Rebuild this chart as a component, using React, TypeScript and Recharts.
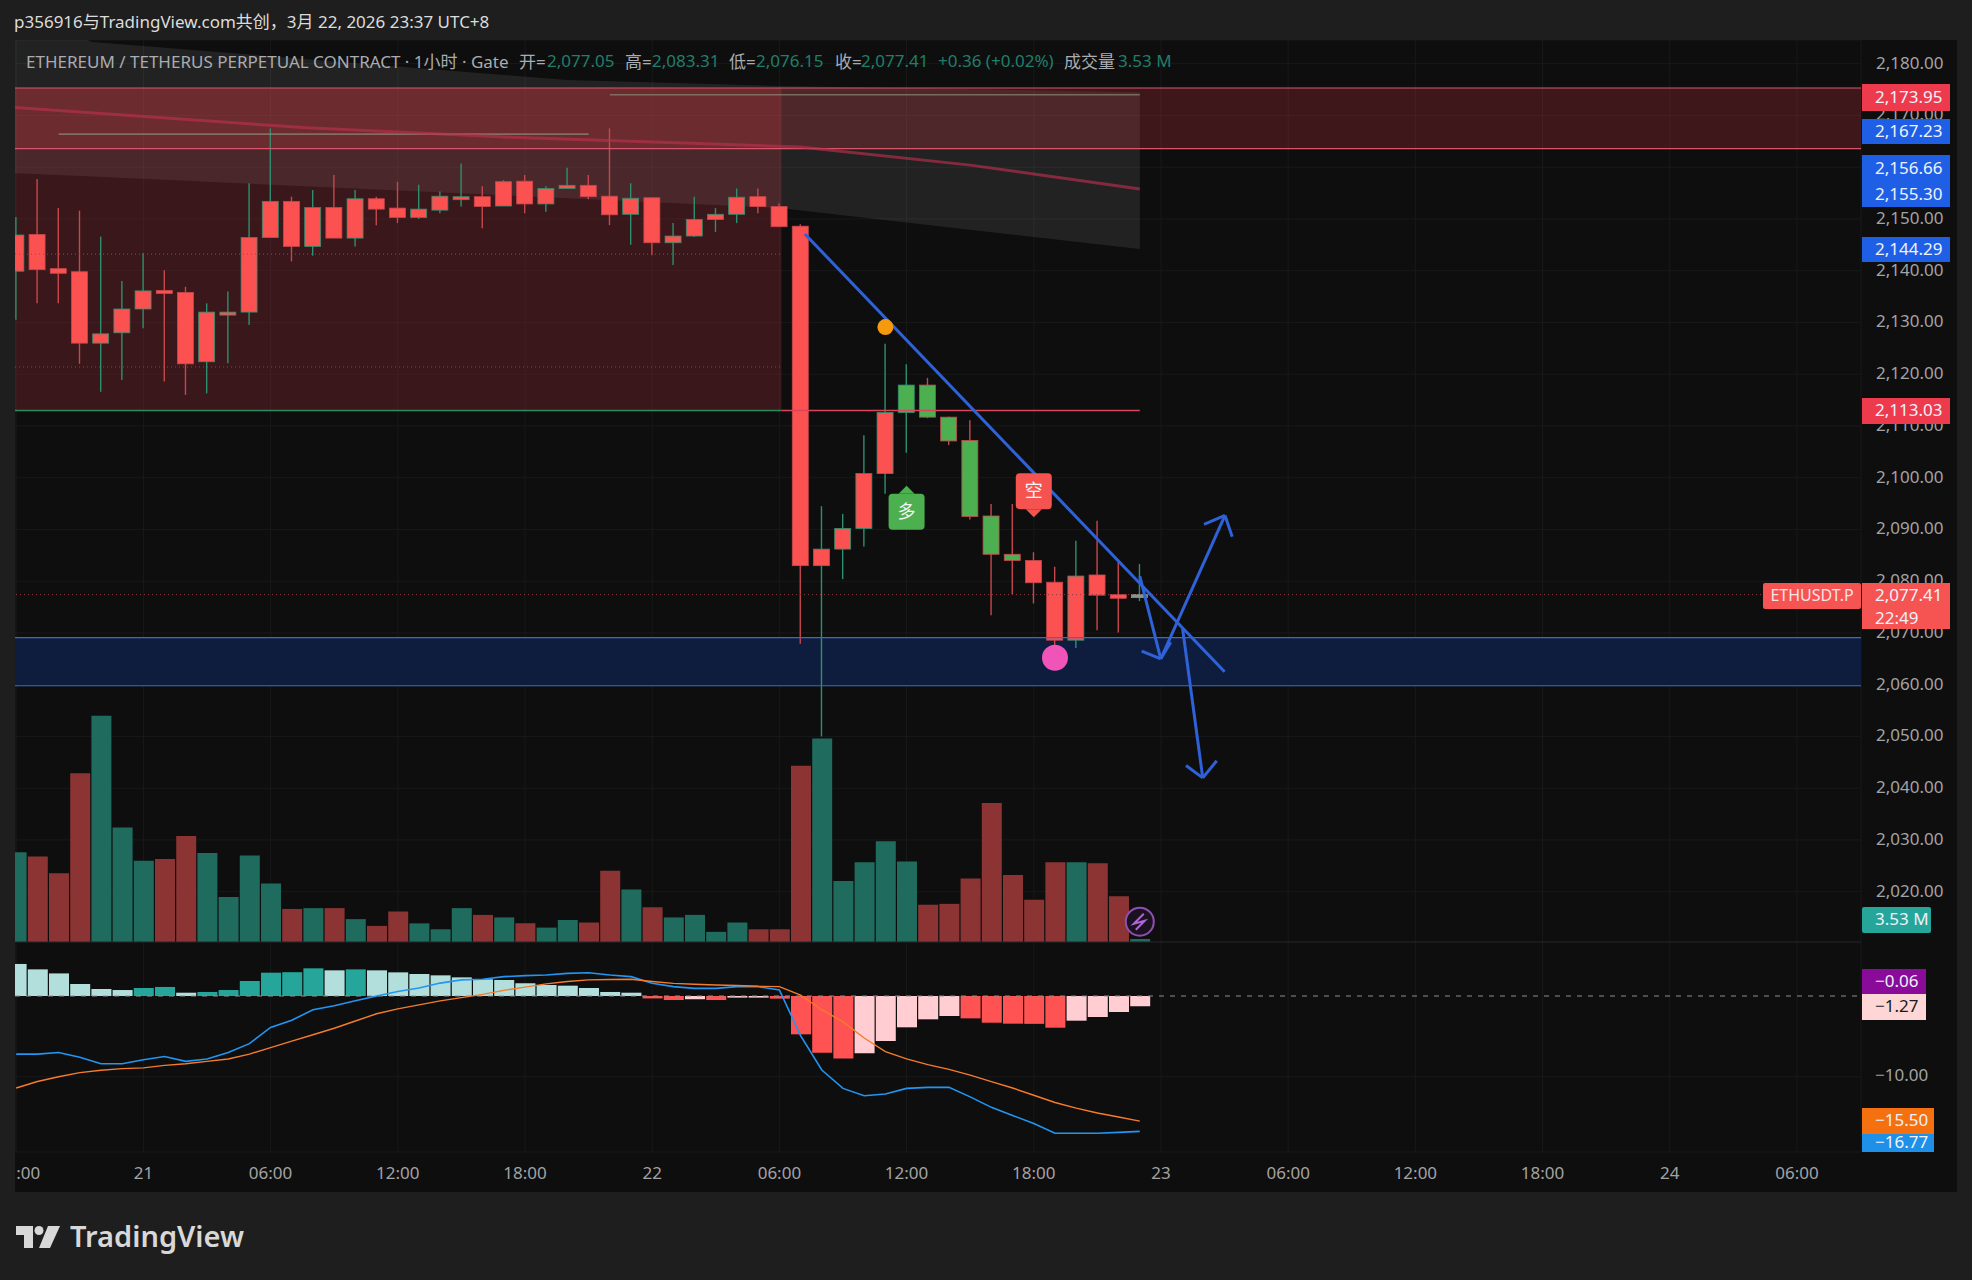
import React from 'react';
import {
  ComposedChart,
  Bar,
  Line,
  Area,
  Cell,
  XAxis,
  YAxis,
  CartesianGrid,
  ReferenceArea,
  ReferenceLine,
  ReferenceDot,
} from 'recharts';

const bodyTop = [
  2146.9, 2147.0, 2140.4, 2139.8, 2127.8, 2132.6, 2136.1, 2136.2, 2135.8, 2132.0, 2132.0, 2146.4, 2153.4, 2153.4,
  2152.2, 2152.2, 2153.9, 2153.9, 2152.1, 2151.9, 2154.4, 2154.3, 2154.3, 2157.2, 2157.3, 2155.9, 2156.5, 2156.5,
  2154.4, 2154.0, 2154.1, 2146.7, 2149.9, 2150.9, 2154.2, 2154.3, 2152.4, 2148.6, 2086.2, 2090.2, 2100.8, 2112.6,
  2117.9, 2117.9, 2111.7, 2107.2, 2092.6, 2085.2, 2084.0, 2079.8, 2081.0, 2081.2, 2077.4, 2077.41,
];
const bodyBottom = [
  2139.9, 2140.2, 2139.5, 2126.0, 2126.0, 2128.0, 2132.6, 2135.6, 2122.0, 2122.4, 2131.7, 2132.0, 2146.4, 2144.7,
  2144.7, 2146.3, 2146.3, 2151.9, 2150.3, 2150.3, 2151.7, 2154.0, 2152.4, 2152.5, 2152.9, 2152.9, 2155.9, 2154.3,
  2150.8, 2150.9, 2145.4, 2145.4, 2146.7, 2149.9, 2150.9, 2152.4, 2148.5, 2083.0, 2083.0, 2086.2, 2090.2, 2100.8,
  2112.6, 2111.7, 2107.1, 2092.5, 2085.2, 2084.0, 2079.7, 2068.6, 2068.6, 2077.3, 2076.7, 2077.05,
];
const wickHigh = [
  2150.4, 2157.7, 2152.1, 2151.6, 2146.6, 2138.0, 2143.4, 2140.1, 2136.9, 2133.7, 2136.0, 2156.9, 2167.5, 2154.3,
  2155.6, 2158.5, 2155.6, 2154.3, 2157.2, 2156.6, 2155.3, 2160.7, 2156.3, 2157.5, 2158.5, 2156.3, 2159.9, 2158.5,
  2167.5, 2156.9, 2154.1, 2149.2, 2154.3, 2152.1, 2155.9, 2155.9, 2153.0, 2149.0, 2094.5, 2093.0, 2108.2, 2125.9,
  2121.9, 2119.3, 2111.8, 2111.1, 2094.9, 2094.9, 2085.6, 2082.8, 2087.8, 2091.7, 2083.8, 2083.31,
];
const wickLow = [
  2130.5, 2133.7, 2133.7, 2122.0, 2116.6, 2118.9, 2128.9, 2118.6, 2116.0, 2116.3, 2122.1, 2129.5, 2146.4, 2141.8,
  2142.9, 2146.3, 2144.7, 2148.8, 2149.2, 2150.0, 2151.1, 2152.4, 2148.2, 2152.5, 2151.1, 2151.4, 2155.9, 2153.8,
  2148.8, 2145.0, 2143.0, 2141.1, 2146.5, 2147.5, 2149.2, 2151.1, 2148.5, 2067.9, 2050.0, 2080.4, 2086.7, 2096.9,
  2104.8, 2111.5, 2106.3, 2091.9, 2073.4, 2077.5, 2075.7, 2067.5, 2067.1, 2070.5, 2070.1, 2076.15,
];
// 1 = teal volume bar and green wick
const upFlags = [
  1, 0, 0, 0, 1, 1, 1, 0, 0, 1, 1, 1, 1, 0, 1, 0, 1, 0, 0, 1, 1, 1, 0, 1, 0, 1, 1, 0, 0, 1, 0, 1, 1, 1, 1, 0, 0,
  0, 1, 1, 1, 1, 1, 0, 0, 0, 0, 0, 0, 0, 1, 0, 0, 1,
];
const volumes = [
  106, 101, 81, 199, 267, 135, 96, 98, 125, 105, 53, 102, 69, 39, 40, 40, 27, 19, 36, 22, 15, 40, 32, 29, 22, 17,
  26, 23, 84, 62, 41, 29, 32, 12, 23, 15, 15, 208, 240, 72, 94, 119, 95, 44, 45, 75, 164, 79, 50, 94, 94, 93, 54,
  3.53,
];
const macdHist = [
  3.97, 3.3, 2.8, 1.49, 0.87, 0.74, 0.99, 1.12, 0.41, 0.5, 0.74, 1.86, 2.89, 2.95, 3.43, 3.18, 3.3, 3.18, 2.93,
  2.73, 2.56, 2.31, 2.07, 1.98, 1.57, 1.36, 1.28, 0.99, 0.5, 0.41, -0.3, -0.5, -0.4, -0.5, -0.2, -0.2, -0.33,
  -4.75, -7.02, -7.73, -7.1, -5.58, -3.88, -2.89, -2.48, -2.77, -3.31, -3.43, -3.45, -3.93, -3.06, -2.6, -1.98,
  -1.27,
];
const macdLine = [
  -7.2, -7.2, -7.0, -7.6, -8.4, -8.4, -7.9, -7.5, -8.1, -7.8, -7.0, -5.9, -3.9, -3.0, -1.7, -1.2, -0.6, 0.0, 0.55,
  1.0, 1.6, 2.0, 2.07, 2.4, 2.52, 2.6, 2.8, 2.89, 2.6, 2.4, 1.57, 1.16, 0.95, 0.95, 1.16, 1.16, 0.74, -4.9, -9.17,
  -11.45, -12.36, -12.15, -11.45, -11.32, -11.32, -12.5, -13.8, -14.8, -15.8, -17.0, -17.0, -17.0, -16.9, -16.77,
];
const macdSignal = [
  -11.4, -10.6, -10.0, -9.5, -9.2, -9.0, -8.9, -8.6, -8.4, -8.1, -7.8, -7.2, -6.4, -5.6, -4.8, -4.0, -3.1, -2.2,
  -1.6, -1.1, -0.6, -0.2, 0.2, 0.7, 1.1, 1.5, 1.8, 2.0, 2.05, 2.07, 1.8, 1.57, 1.45, 1.36, 1.3, 1.2, 1.16, 0.1,
  -1.7, -3.2, -5.2, -6.9, -7.8, -8.5, -9.1, -9.8, -10.6, -11.4, -12.3, -13.2, -13.9, -14.5, -15.0, -15.5,
];

const priceTicks = [2180, 2170, 2160, 2150, 2140, 2130, 2120, 2110, 2100, 2090, 2080, 2070, 2060, 2050, 2040, 2030, 2020];
const timeTicks = [0, 6, 12, 18, 24, 30, 36, 42, 48, 54, 60, 66, 72, 78, 84];
const timeLabels = [':00', '21', '06:00', '12:00', '18:00', '22', '06:00', '12:00', '18:00', '23', '06:00', '12:00', '18:00', '24', '06:00'];

const cloudIndex = [-1, 3.6, 26, 36, 53];
const cloudUpper = [2191.3, 2184.2, 2176.85, 2175.7, 2174.5];
const cloudLower = [2159, 2158.2, 2154, 2152.1, 2144.2];

const maIndex = [-1, 13.7, 23.3, 31.5, 37, 45, 53];
const maValues = [2171.8, 2167.6, 2165.8, 2164.7, 2163.9, 2160.4, 2155.8];

// index, price, index, price
const trendStrokes = [[37.2, 2147.1, 57, 2062.5]];
const arrowStrokes = [
  [53, 2081, 53.99, 2065],
  [53.09, 2066.5, 53.99, 2065],
  [54.46, 2068.2, 53.99, 2065],
  [53.99, 2065, 57.02, 2092.7],
  [56.03, 2091, 57.02, 2092.7],
  [57.36, 2088.6, 57.02, 2092.7],
  [55.02, 2070.8, 55.97, 2042],
  [55.18, 2044.4, 55.97, 2042],
  [56.63, 2045.3, 55.97, 2042],
];
const paleStrokes = [
  [-0.06, 2163.2, 0.95, 2163.2],
  [2, 2166.4, 27, 2166.4],
  [28, 2174, 53, 2174],
];

const rows = bodyTop.map((top, i) => ({
  i,
  range: [wickLow[i], wickHigh[i]],
  top,
  bottom: bodyBottom[i],
  up: upFlags[i] === 1,
  greenBody: i >= 42 && i <= 47,
  volume: volumes[i],
  hist: macdHist[i],
  macd: macdLine[i],
  signal: macdSignal[i],
}));
const cloudRows = cloudIndex.map((i, k) => ({ i, band: [cloudLower[k], cloudUpper[k]] }));
const maRows = maIndex.map((i, k) => ({ i, ma: maValues[k] }));

const xDomain = [-0.0566, 87.02];
const priceDomain = [1969.7, 2184.58];
const volumeDomain = [-247.8, 1064.4];
const macdDomain = [-19.33, 118.46];

const font = '"Noto Sans", "Noto Sans CJK SC", sans-serif';
const candleWidth = 16;

function histColor(i: number) {
  const v = macdHist[i];
  const prev = i > 0 ? macdHist[i - 1] : v + 1;
  if (v >= 0) return v > prev ? '#26a69a' : '#b2dfdb';
  return v < prev ? '#ff5252' : '#ffcdd2';
}

function Candle(props: any) {
  const { x, y, width, height, payload } = props;
  const hi = payload.range[1];
  const lo = payload.range[0];
  const perUnit = height / (hi - lo);
  const topY = y + (hi - payload.top) * perUnit;
  const bodyH = Math.max((payload.top - payload.bottom) * perUnit, 3);
  const edge = payload.up ? '#2f8f6e' : '#c8474d';
  const fill = payload.greenBody ? '#4caf50' : '#fb5151';
  const mid = x + width / 2;
  return (
    <g>
      <line x1={mid} x2={mid} y1={y} y2={y + height} stroke={edge} strokeWidth={1.4} />
      <rect
        x={mid - candleWidth / 2}
        y={topY}
        width={candleWidth}
        height={bodyH}
        fill={payload.i === 53 ? '#7f9a8d' : fill}
        stroke={payload.i === 53 ? '#7f9a8d' : edge}
        strokeWidth={0.8}
      />
    </g>
  );
}

function TimeTick(props: any) {
  const { x, y, payload } = props;
  const label = timeLabels[timeTicks.indexOf(payload.value)];
  const first = payload.value === 0;
  return (
    <text x={x} y={y - 16} textAnchor={first ? 'start' : 'middle'} fill="#a3a3a3" fontSize={17} fontFamily={font} dominantBaseline="middle">
      {label}
    </text>
  );
}

function SignalBadge(props: any) {
  const { cx, cy, label, color, up } = props;
  const w = 36;
  const h = 36;
  const notch = up
    ? `M${cx - 8} ${cy - h / 2} L${cx} ${cy - h / 2 - 8} L${cx + 8} ${cy - h / 2} Z`
    : `M${cx - 8} ${cy + h / 2} L${cx} ${cy + h / 2 + 8} L${cx + 8} ${cy + h / 2} Z`;
  return (
    <g>
      <rect x={cx - w / 2} y={cy - h / 2} width={w} height={h} rx={4} fill={color} />
      <path d={notch} fill={color} />
      <text x={cx} y={cy + 1} fill="#f4f4f4" fontSize={18} textAnchor="middle" dominantBaseline="middle" fontFamily='"Noto Sans CJK SC"'>
        {label}
      </text>
    </g>
  );
}

function BoltIcon(props: any) {
  const { cx, cy } = props;
  return (
    <g>
      <circle cx={cx} cy={cy} r={14} fill="#1a1220" stroke="#8e4fb5" strokeWidth={2} />
      <path d={`M${cx + 4} ${cy - 8} L${cx - 6} ${cy + 2} L${cx + 5} ${cy - 1} L${cx - 4} ${cy + 8}`} fill="none" stroke="#b066d8" strokeWidth={2} />
    </g>
  );
}

const badges = [
  { top: 84, h: 27, w: 88, bg: '#ee3a4d', lines: ['2,173.95'] },
  { top: 119, h: 25, w: 88, bg: '#1f5fe6', lines: ['2,167.23'] },
  { top: 155, h: 52, w: 88, bg: '#1f5fe6', lines: ['2,156.66', '2,155.30'] },
  { top: 237, h: 25, w: 88, bg: '#1f5fe6', lines: ['2,144.29'] },
  { top: 398, h: 26, w: 88, bg: '#ee3a4d', lines: ['2,113.03'] },
  { top: 583, h: 46, w: 88, bg: '#f65353', lines: ['2,077.41', '22:49'] },
  { top: 907, h: 26, w: 69, bg: '#26a69a', lines: ['3.53 M'], r: 2 },
  { top: 969, h: 26, w: 64, bg: '#8a0a9a', lines: ['−0.06'] },
  { top: 994, h: 26, w: 64, bg: '#ffd6d6', lines: ['−1.27'], color: '#1a1a1a' },
  { top: 1108, h: 26, w: 72, bg: '#f5700f', lines: ['−15.50'] },
  { top: 1134, h: 18, w: 72, bg: '#1f90e8', lines: ['−16.77'] },
];

const legendBits = [
  { x: 26, y: 48, text: 'ETHEREUM / TETHERUS PERPETUAL CONTRACT · 1小时 · Gate', c: '#a9acb0' },
  { x: 519, y: 48, text: '开=', c: '#a9acb0' },
  { x: 547, y: 49, text: '2,077.05', c: '#1f7f6a' },
  { x: 625, y: 48, text: '高=', c: '#a9acb0' },
  { x: 652, y: 49, text: '2,083.31', c: '#1f7f6a' },
  { x: 729, y: 48, text: '低=', c: '#a9acb0' },
  { x: 756, y: 49, text: '2,076.15', c: '#1f7f6a' },
  { x: 835, y: 48, text: '收=', c: '#a9acb0' },
  { x: 861, y: 49, text: '2,077.41', c: '#1f7f6a' },
  { x: 938, y: 49, text: '+0.36 (+0.02%)', c: '#1f7f6a' },
  { x: 1064, y: 48, text: '成交量', c: '#a9acb0' },
  { x: 1118, y: 49, text: '3.53 M', c: '#1f7f6a' },
];

export default function App() {
  const priceAxes = { xAxisId: 'price', yAxisId: 'price' } as const;
  return (
    <div style={{ position: 'absolute', left: 0, top: 0, width: 1972, height: 1280, background: '#1e1e1e', overflow: 'hidden', fontFamily: font }}>
      <div style={{ position: 'absolute', left: 14, top: 8, fontSize: 17, color: '#dcdcdc', whiteSpace: 'nowrap' }}>
        p356916与TradingView.com共创，3月 22, 2026 23:37 UTC+8
      </div>

      <div style={{ position: 'absolute', left: 15, top: 40 }}>
        <ComposedChart
          width={1942}
          height={1152}
          data={rows}
          margin={{ top: 0, right: 0, bottom: 0, left: 0 }}
          style={{ background: '#0e0e0f' }}
        >
          <CartesianGrid {...priceAxes} stroke="#18191a" />
          <XAxis
            xAxisId="price"
            type="number"
            dataKey="i"
            domain={xDomain}
            ticks={timeTicks}
            interval={0}
            allowDataOverflow
            height={40}
            axisLine={false}
            tickLine={false}
            tick={<TimeTick />}
          />
          <XAxis xAxisId="volume" type="number" dataKey="i" domain={xDomain} allowDataOverflow hide />
          <XAxis xAxisId="macd" type="number" dataKey="i" domain={xDomain} allowDataOverflow hide />
          <YAxis
            yAxisId="price"
            orientation="right"
            width={96}
            domain={priceDomain}
            ticks={priceTicks}
            interval={0}
            allowDataOverflow
            axisLine={false}
            tickLine={false}
            tickMargin={9}
            tick={{ fill: '#a3a3a3', fontSize: 17, fontFamily: font, dy: -1 }}
            tickFormatter={(v: number) => v.toLocaleString('en-US', { minimumFractionDigits: 2 })}
          />
          <YAxis yAxisId="volume" domain={volumeDomain} allowDataOverflow hide />
          <YAxis yAxisId="macd" domain={macdDomain} allowDataOverflow hide />

          <Area
            {...priceAxes}
            data={cloudRows}
            dataKey="band"
            type="linear"
            stroke="none"
            fill="#ffffff"
            fillOpacity={0.085}
            isAnimationActive={false}
          />
          <ReferenceArea {...priceAxes} x1={xDomain[0]} x2={36.1} y1={2113} y2={2175.3} fill="#e63c46" fillOpacity={0.2} stroke="none" ifOverflow="visible" />
          <ReferenceArea {...priceAxes} x1={xDomain[0]} x2={xDomain[1]} y1={2163.6} y2={2175.3} fill="#e63c46" fillOpacity={0.22} stroke="none" ifOverflow="visible" />
          <ReferenceArea {...priceAxes} x1={xDomain[0]} x2={xDomain[1]} y1={2059.8} y2={2069.1} fill="#0e1d3e" fillOpacity={1} stroke="none" ifOverflow="visible" />
          <ReferenceLine {...priceAxes} y={2175.3} stroke="#d9566a" strokeWidth={1.2} />
          <ReferenceLine {...priceAxes} y={2163.6} stroke="#d9566a" strokeWidth={1.2} />
          <ReferenceLine {...priceAxes} y={2069.1} stroke="#3a6cc0" strokeWidth={1.2} />
          <ReferenceLine {...priceAxes} y={2059.8} stroke="#3a6cc0" strokeWidth={1.2} />
          <ReferenceLine {...priceAxes} y={2077.41} stroke="#8f3a3f" strokeDasharray="1 3" />
          <ReferenceLine {...priceAxes} segment={[{ x: xDomain[0], y: 2143.2 }, { x: 36.1, y: 2143.2 }]} stroke="#8f4a55" strokeDasharray="1 3" />
          <ReferenceLine {...priceAxes} segment={[{ x: xDomain[0], y: 2121.4 }, { x: 36.1, y: 2121.4 }]} stroke="#7a4a66" strokeDasharray="1 3" />
          <ReferenceLine {...priceAxes} segment={[{ x: xDomain[0], y: 2113 }, { x: 36.1, y: 2113 }]} stroke="#2c8a5c" strokeWidth={1.6} />
          <ReferenceLine {...priceAxes} segment={[{ x: 36.1, y: 2113 }, { x: 53, y: 2113 }]} stroke="#d9455a" strokeWidth={1.4} />
          {paleStrokes.map((s, k) => (
            <ReferenceLine key={k} {...priceAxes} segment={[{ x: s[0], y: s[1] }, { x: s[2], y: s[3] }]} stroke="#8c8a76" strokeOpacity={0.7} strokeWidth={1.6} />
          ))}
          <ReferenceLine xAxisId="macd" yAxisId="macd" y={-10} stroke="#18191a" />
          <ReferenceLine xAxisId="macd" yAxisId="macd" y={0} stroke="#8e8e8e" strokeDasharray="5 6" strokeWidth={1.2} />
          <ReferenceLine xAxisId="volume" yAxisId="volume" y={0} stroke="#26272a" />

          <Line
            {...priceAxes}
            data={maRows}
            dataKey="ma"
            type="linear"
            dot={false}
            stroke="#b8304f"
            strokeOpacity={0.65}
            strokeWidth={3}
            isAnimationActive={false}
          />

          <Bar xAxisId="volume" yAxisId="volume" dataKey="volume" barSize={20} isAnimationActive={false}>
            {rows.map((r) => (
              <Cell key={r.i} fill={r.up ? '#1f6b5d' : '#8c3434'} />
            ))}
          </Bar>
          <Bar {...priceAxes} dataKey="range" barSize={16} shape={<Candle />} isAnimationActive={false} />
          <Bar xAxisId="macd" yAxisId="macd" dataKey="hist" barSize={20} isAnimationActive={false}>
            {rows.map((r) => (
              <Cell key={r.i} fill={histColor(r.i)} />
            ))}
          </Bar>
          <Line xAxisId="macd" yAxisId="macd" dataKey="macd" type="linear" dot={false} stroke="#2196f3" strokeWidth={1.6} isAnimationActive={false} />
          <Line xAxisId="macd" yAxisId="macd" dataKey="signal" type="linear" dot={false} stroke="#f57c2c" strokeWidth={1.4} isAnimationActive={false} />

          {trendStrokes.concat(arrowStrokes).map((s, k) => (
            <ReferenceLine
              key={k}
              {...priceAxes}
              segment={[{ x: s[0], y: s[1] }, { x: s[2], y: s[3] }]}
              stroke="#2f62d8"
              strokeWidth={3}
            />
          ))}
          <ReferenceDot {...priceAxes} x={41} y={2129.1} r={8} fill="#f59a0c" stroke="none" />
          <ReferenceDot {...priceAxes} x={49} y={2065.2} r={13} fill="#f054b8" stroke="none" />
          <ReferenceDot {...priceAxes} x={42} y={2093.4} shape={<SignalBadge label="多" color="#4caf50" up />} />
          <ReferenceDot {...priceAxes} x={48} y={2097.4} shape={<SignalBadge label="空" color="#f5534f" />} />
          <ReferenceDot {...priceAxes} x={53} y={2014.2} shape={<BoltIcon />} />
        </ComposedChart>
      </div>

      {legendBits.map((b) => (
        <div key={b.x} style={{ position: 'absolute', left: b.x, top: b.y, fontSize: 17, color: b.c, whiteSpace: 'nowrap' }}>
          {b.text}
        </div>
      ))}

      <div style={{ position: 'absolute', left: 1763, top: 583, width: 98, height: 26, background: '#f65353', borderRadius: 2, color: '#f6e4e4', fontSize: 16, lineHeight: '25px', textAlign: 'center' }}>
        ETHUSDT.P
      </div>
      {badges.map((b) => (
        <div
          key={b.lines[0]}
          style={{
            position: 'absolute',
            left: 1862,
            top: b.top,
            width: b.w,
            height: b.h,
            background: b.bg,
            borderRadius: b.r || 0,
            color: b.color || '#eef2fb',
            fontSize: 17,
            lineHeight: b.lines.length > 1 ? `${b.h / 2}px` : `${b.h - 2}px`,
            paddingLeft: 13,
            boxSizing: 'border-box',
            overflow: 'hidden',
          }}
        >
          {b.lines.map((l) => (
            <div key={l}>{l}</div>
          ))}
        </div>
      ))}
      <div style={{ position: 'absolute', left: 1875, top: 1063, fontSize: 17, color: '#a3a3a3' }}>−10.00</div>

      <svg style={{ position: 'absolute', left: 16, top: 1226 }} width={44} height={22} viewBox="0 0 44 22">
        <path d="M0 0H17V22H8V9H0Z" fill="#d8d8d8" />
        <circle cx={23} cy={4.5} r={4.5} fill="#d8d8d8" />
        <path d="M32 0H44L34 22H23Z" fill="#d8d8d8" />
      </svg>
      <div style={{ position: 'absolute', left: 70, top: 1216, fontSize: 29, fontWeight: 600, color: '#d8d8d8' }}>TradingView</div>
    </div>
  );
}
